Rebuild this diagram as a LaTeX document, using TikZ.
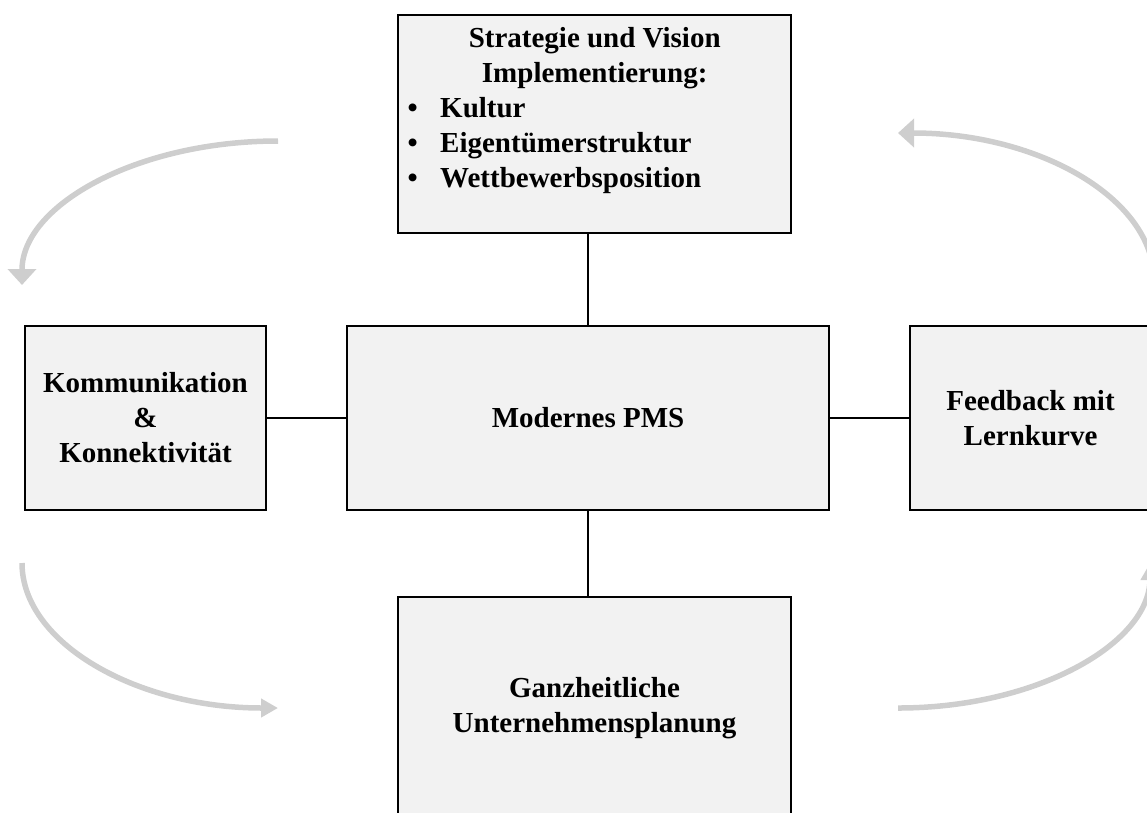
\documentclass[tikz,border=0pt]{standalone}
\usepackage{fontspec}
\setmainfont{Liberation Serif}
\usetikzlibrary{arrows.meta}
\definecolor{boxfill}{RGB}{242,242,242}
\definecolor{cyclegray}{RGB}{206,206,206}
\begin{document}
\begin{tikzpicture}[x=1pt,y=-1pt,
  every node/.style={font=\fontsize{29}{35}\selectfont\bfseries},
  panel/.style={draw=black, line width=1.8pt, fill=boxfill, rectangle,
    inner sep=0pt, align=center},
  link/.style={draw=black, line width=1.8pt},
  cyclearrow/.style={draw=cyclegray, line width=5.5pt},
  bigtip/.style={-{Triangle[width=28pt,length=16pt]}},
  smalltip/.style={-{Triangle[width=18pt,length=17pt]}},
]
\useasboundingbox (0,0) rectangle (1147,812);
\clip (0,0) rectangle (1147,812);

% boxes
\node[panel, minimum width=393pt, minimum height=218pt] (strategy) at (594.5,124) {};
\node[panel, minimum width=241pt, minimum height=184pt] (comm) at (145.5,418)
  {Kommunikation\\\&\\Konnektivität};
\node[panel, minimum width=482pt, minimum height=184pt] (pms) at (588,418)
  {Modernes PMS};
\node[panel, minimum width=241pt, minimum height=184pt] (feedback) at (1030.5,418)
  {Feedback mit\\Lernkurve};
\node[panel, minimum width=393pt, minimum height=223pt] (planning) at (594.5,708.5)
  {Ganzheitliche\\Unternehmensplanung};

% text of the strategy box: centred heading, then a bullet list
\node[anchor=base west, inner sep=0pt] (strategytext) at (398,47)
  {\parbox[t]{393pt}{\centering Strategie und Vision\\Implementierung:\par
   \raggedright
   \hspace*{9.4pt}\makebox[32.6pt][l]{•}Kultur\\
   \hspace*{9.4pt}\makebox[32.6pt][l]{•}Eigentümerstruktur\\
   \hspace*{9.4pt}\makebox[32.6pt][l]{•}Wettbewerbsposition}};

% links to the central box
\draw[link] (pms.north) -- (pms.north |- strategy.south);
\draw[link] (pms.south) -- (pms.south |- planning.north);
\draw[link] (comm.east) -- (pms.west);
\draw[link] (pms.east) -- (feedback.west);

% cycle arrows around the diagram
\coordinate (tlA) at (278,141);
\coordinate (tlB) at (22,285);
\coordinate (blA) at (22,563);
\coordinate (blB) at (278,708);
\coordinate (brA) at (898,708);
\coordinate (brB) at (1150,563);
\coordinate (trA) at (1154,280);
\coordinate (trB) at (898,133);

\draw[cyclearrow, bigtip] (tlA) .. controls (136.7,141) and (22,205.5) .. (tlB);
\draw[cyclearrow, smalltip] (blA) .. controls (22,643) and (136.7,708) .. (blB);
\draw[cyclearrow, smalltip] (brA) .. controls (1037.1,708) and (1150,643) .. (brB);
\draw[cyclearrow, bigtip] (trA) .. controls (1154,198.9) and (1039.3,133) .. (trB);
\end{tikzpicture}
\end{document}
